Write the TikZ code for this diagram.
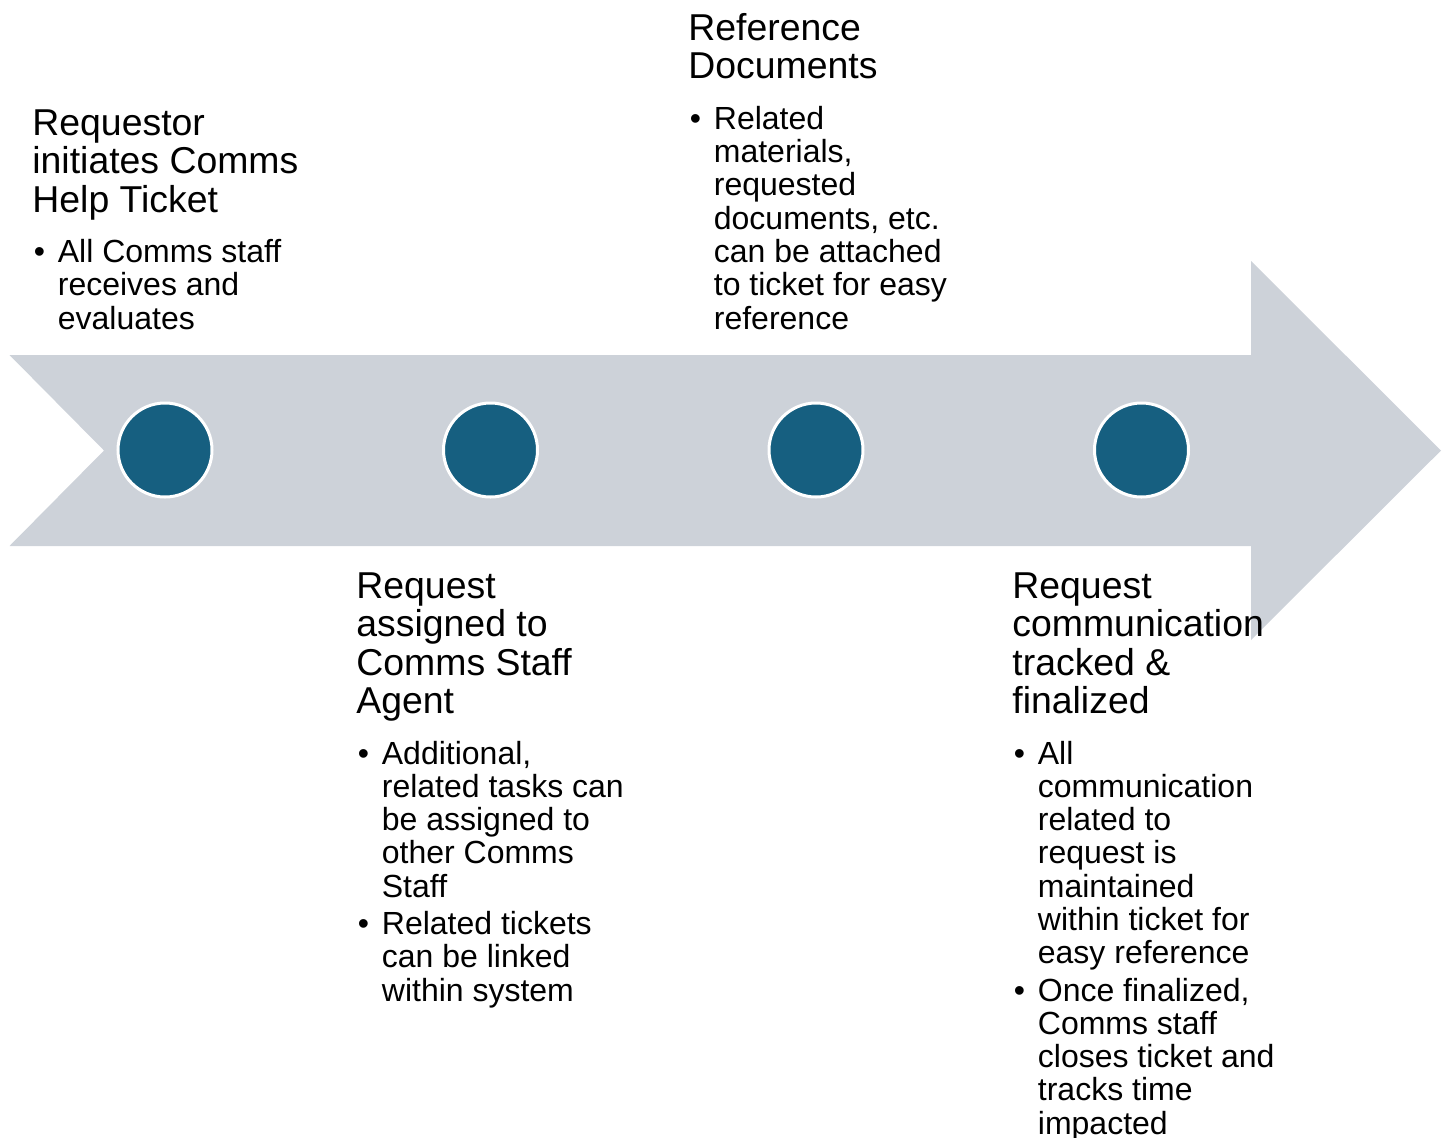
\documentclass[tikz,border=0pt]{standalone}
\usepackage{fontspec}
\setmainfont{Liberation Sans}
\definecolor{arrowgray}{HTML}{CDD2D9}
\definecolor{dotblue}{HTML}{165F80}
\newcommand\stacklines[1]{\vtop{\lineskiplimit=-\maxdimen\def\\{\egroup\hbox\bgroup}\hbox\bgroup#1\egroup}}
\newcommand\bulletlines[1]{\makebox[12.75pt][l]{\hspace{0.7pt}\textbullet}\stacklines{#1}}

\begin{document}
\begin{tikzpicture}[x=0.5pt,y=-0.5pt]
\tikzset{
  headtext/.style={anchor=base west,inner sep=0pt,font=\fontsize{18.7pt}{19.25pt}\selectfont},
  bodytext/.style={anchor=base west,inner sep=0pt,font=\fontsize{16pt}{16.65pt}\selectfont},
  stepdot/.style={circle,fill=dotblue,draw=white,line width=1.5pt,minimum size=47pt,inner sep=0pt}
}
\useasboundingbox (0,0) rectangle (1447,1137);
\fill[arrowgray] (9.5,355) -- (1251,355) -- (1251,261) -- (1441,450.5) -- (1251,640)
  -- (1251,546) -- (9.5,546) -- (104,450.5) -- cycle;
\foreach \i/\x in {1/165,2/490.5,3/816,4/1141.5}
  \node[stepdot] (dot\i) at (\x,450) {};
\node[headtext] (title1) at (32,135) {\stacklines{Requestor\\initiates Comms\\Help Ticket}};
\node[bodytext] (item1) at (32,262.5) {\bulletlines{All Comms staff\\receives and\\evaluates}};
\node[headtext] (title2) at (356,598) {\stacklines{Request\\assigned to\\Comms Staff\\Agent}};
\node[bodytext] (item2a) at (356,764) {\bulletlines{Additional,\\related tasks can\\be assigned to\\other Comms\\Staff}};
\node[bodytext] (item2b) at (356,934.5) {\bulletlines{Related tickets\\can be linked\\within system}};
\node[headtext] (title3) at (688,40) {\stacklines{Reference\\Documents}};
\node[bodytext] (item3) at (688,129.2) {\bulletlines{Related\\materials,\\requested\\documents, etc.\\can be attached\\to ticket for easy\\reference}};
\node[headtext] (title4) at (1012,598) {\stacklines{Request\\communication\\tracked \&\\finalized}};
\node[bodytext] (item4a) at (1012,764) {\bulletlines{All\\communication\\related to\\request is\\maintained\\within ticket for\\easy reference}};
\node[bodytext] (item4b) at (1012,1001) {\bulletlines{Once finalized,\\Comms staff\\closes ticket and\\tracks time\\impacted}};
\end{tikzpicture}
\end{document}
